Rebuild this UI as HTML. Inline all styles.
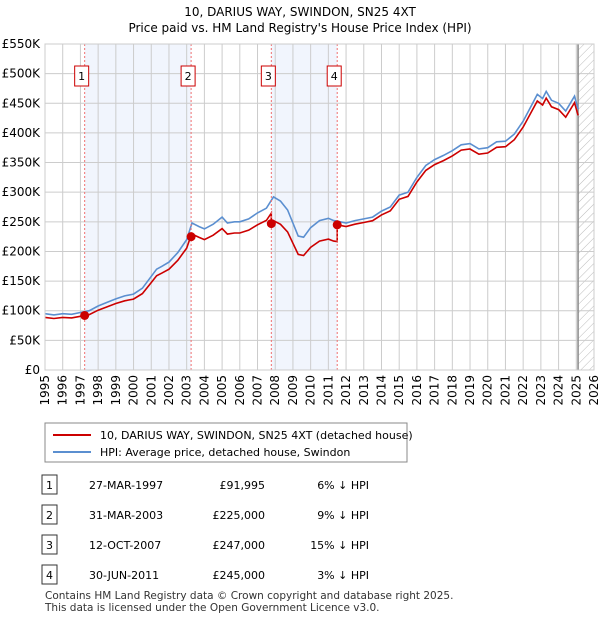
<!DOCTYPE html>
<html><head><meta charset="utf-8"><style>
body{margin:0;background:#fff;font-family:"Liberation Sans","DejaVu Sans",sans-serif;}
svg text{font-family:"DejaVu Sans","Liberation Sans",sans-serif;}
</style></head><body>
<svg width="600" height="620" xmlns="http://www.w3.org/2000/svg" id="chart">
<defs><pattern id="hatch" width="6" height="6" patternUnits="userSpaceOnUse" patternTransform="rotate(45)"><line x1="0" y1="0" x2="0" y2="6" stroke="#bbb" stroke-width="1"/></pattern></defs>
<text x="300" y="16" text-anchor="middle" font-size="12" fill="#000">10, DARIUS WAY, SWINDON, SN25 4XT</text>
<text x="300" y="32" text-anchor="middle" font-size="12" fill="#000">Price paid vs. HM Land Registry's House Price Index (HPI)</text>
<g id="bands"></g><g id="grid"></g><g id="series"></g><g id="marks"></g>
<rect x="45" y="44" width="549" height="326" fill="none" stroke="#ccc"/>
<g>
<rect x="45" y="423" width="362" height="39" fill="#fff" stroke="#888"/>
<line x1="53" y1="435" x2="91" y2="435" stroke="#cc0000" stroke-width="2"/>
<text x="100" y="439" font-size="11">10, DARIUS WAY, SWINDON, SN25 4XT (detached house)</text>
<line x1="53" y1="452" x2="91" y2="452" stroke="#5b8fd0" stroke-width="2"/>
<text x="100" y="456" font-size="11">HPI: Average price, detached house, Swindon</text>
</g>
<g id="table"></g>
<text x="45" y="599" font-size="10.5" fill="#333">Contains HM Land Registry data © Crown copyright and database right 2025.</text>
<text x="45" y="611" font-size="10.5" fill="#333">This data is licensed under the Open Government Licence v3.0.</text>
</svg>
<script>
const hpiYears=[1995,1995.5,1996,1996.5,1997,1997.5,1998,1998.5,1999,1999.5,2000,2000.5,2001,2001.3,2001.6,2002,2002.5,2003,2003.3,2003.7,2004,2004.5,2005,2005.3,2005.7,2006,2006.5,2007,2007.5,2007.9,2008.3,2008.7,2009,2009.3,2009.6,2010,2010.5,2011,2011.3,2011.5,2012,2012.5,2013,2013.5,2014,2014.5,2015,2015.5,2016,2016.5,2017,2017.5,2018,2018.5,2019,2019.5,2020,2020.5,2021,2021.5,2022,2022.5,2022.8,2023.1,2023.3,2023.6,2024,2024.4,2024.9,2025.1];
const hpiValues=[95,93,95,94,97,100,108,114,120,125,128,138,158,170,175,182,198,220,248,242,238,246,258,248,250,250,255,265,273,292,285,270,248,226,224,240,252,256,252,251,248,252,255,258,268,275,295,300,325,345,355,362,370,380,382,373,375,385,386,398,420,448,465,458,470,455,450,437,462,440];
const saleLabels=["1","2","3","4"];
const saleYears=[1997.24,2003.25,2007.78,2011.5];
const salePrices=[91995,225000,247000,245000];
const saleDates=["27-MAR-1997","31-MAR-2003","12-OCT-2007","30-JUN-2011"];
const salePriceText=["£91,995","£225,000","£247,000","£245,000"];
const saleDiffs=["6% ↓ HPI","9% ↓ HPI","15% ↓ HPI","3% ↓ HPI"];
const yTicks=[0,50,100,150,200,250,300,350,400,450,500,550];
const xTicks=[1995,1996,1997,1998,1999,2000,2001,2002,2003,2004,2005,2006,2007,2008,2009,2010,2011,2012,2013,2014,2015,2016,2017,2018,2019,2020,2021,2022,2023,2024,2025,2026];
const dataEnd=2025.1;
const X=y=>45+(y-1995)*549/31;
const Y=v=>370-v*326/550;
const NS="http://www.w3.org/2000/svg";
function mk(t,a,p){const e=document.createElementNS(NS,t);for(const k in a)e.setAttribute(k,a[k]);p.appendChild(e);return e;}
function hpiAt(y){for(let i=1;i<hpiYears.length;i++){if(y<=hpiYears[i]){const t=(y-hpiYears[i-1])/(hpiYears[i]-hpiYears[i-1]);return hpiValues[i-1]+t*(hpiValues[i]-hpiValues[i-1]);}}return hpiValues[hpiValues.length-1];}
const bands=document.getElementById('bands'),grid=document.getElementById('grid'),series=document.getElementById('series'),marks=document.getElementById('marks'),table=document.getElementById('table');
for(let i=0;i<saleYears.length;i+=2){const x1=X(saleYears[i]),x2=i+1<saleYears.length?X(saleYears[i+1]):X(dataEnd);const r=mk('rect',{x:x1,y:44,width:x2-x1,height:326,fill:'#eef3fc',opacity:0.8},bands);

}
const h=mk('rect',{x:X(dataEnd),y:44,width:594-X(dataEnd),height:326,fill:'url(#hatch)'},bands);


yTicks.forEach(v=>{const l=mk('line',{x1:45,x2:594,y1:Y(v),y2:Y(v),stroke:'#ccc'},grid);


const t=mk('text',{x:40,y:Y(v)+4,'text-anchor':'end','font-size':12},grid);t.textContent=v===0?'£0':'£'+v+'K';

});
xTicks.forEach(y=>{const l=mk('line',{x1:X(y),x2:X(y),y1:44,y2:370,stroke:'#ccc'},grid);


const t=mk('text',{x:0,y:0,'text-anchor':'end','font-size':12,transform:`translate(${X(y)+4},375) rotate(-90)`},grid);t.textContent=y;

});
const el=mk('line',{x1:X(dataEnd),x2:X(dataEnd),y1:44,y2:370,stroke:'#888','stroke-width':1.5},grid);


let d='';hpiYears.forEach((y,i)=>{d+=(i?'L':'M')+X(y).toFixed(1)+','+Y(hpiValues[i]).toFixed(1);});
const hp=mk('path',{d:d,fill:'none',stroke:'#5b8fd0','stroke-width':1.6},series);


const factors=saleYears.map((y,i)=>salePrices[i]/1000/hpiAt(y));
function factorAt(y){let f=factors[0];for(let i=0;i<saleYears.length;i++)if(y>=saleYears[i])f=factors[i];return f;}
let pts=hpiYears.map((y,i)=>[y,hpiValues[i]]);saleYears.forEach(s=>{pts.push([s-0.001,hpiAt(s-0.001)]);pts.push([s,hpiAt(s)]);});
pts.sort((a,b)=>a[0]-b[0]);
let d2='';pts.forEach((p,i)=>{d2+=(i?'L':'M')+X(p[0]).toFixed(1)+','+Y(p[1]*factorAt(p[0])).toFixed(1);});
const pp=mk('path',{d:d2,fill:'none',stroke:'#cc0000','stroke-width':1.6},series);


saleYears.forEach((y,i)=>{const v=mk('line',{x1:X(y),x2:X(y),y1:44,y2:370,stroke:'#f07070','stroke-dasharray':'2,2'},marks);


const c=mk('circle',{cx:X(y),cy:Y(salePrices[i]/1000),r:4.5,fill:'#cc0000'},marks);


const b=mk('rect',{x:X(y)-10,y:66,width:14,height:20,fill:'#fff',stroke:'#cc0000'},marks);


const t=mk('text',{x:X(y)-3,y:80,'text-anchor':'middle','font-size':11},marks);t.textContent=saleLabels[i];


const ry=485+i*30;
const tb=mk('rect',{x:42,y:ry-10,width:15,height:19,fill:'#fff',stroke:'#333'},table);


const tn=mk('text',{x:49.5,y:ry+4,'text-anchor':'middle','font-size':11},table);tn.textContent=saleLabels[i];


const td=mk('text',{x:89,y:ry+4,'font-size':11},table);td.textContent=saleDates[i];


const tp=mk('text',{x:265,y:ry+4,'text-anchor':'end','font-size':11},table);tp.textContent=salePriceText[i];


const tdf=mk('text',{x:369,y:ry+4,'text-anchor':'end','font-size':11},table);tdf.textContent=saleDiffs[i];

});
</script>
</body></html>
